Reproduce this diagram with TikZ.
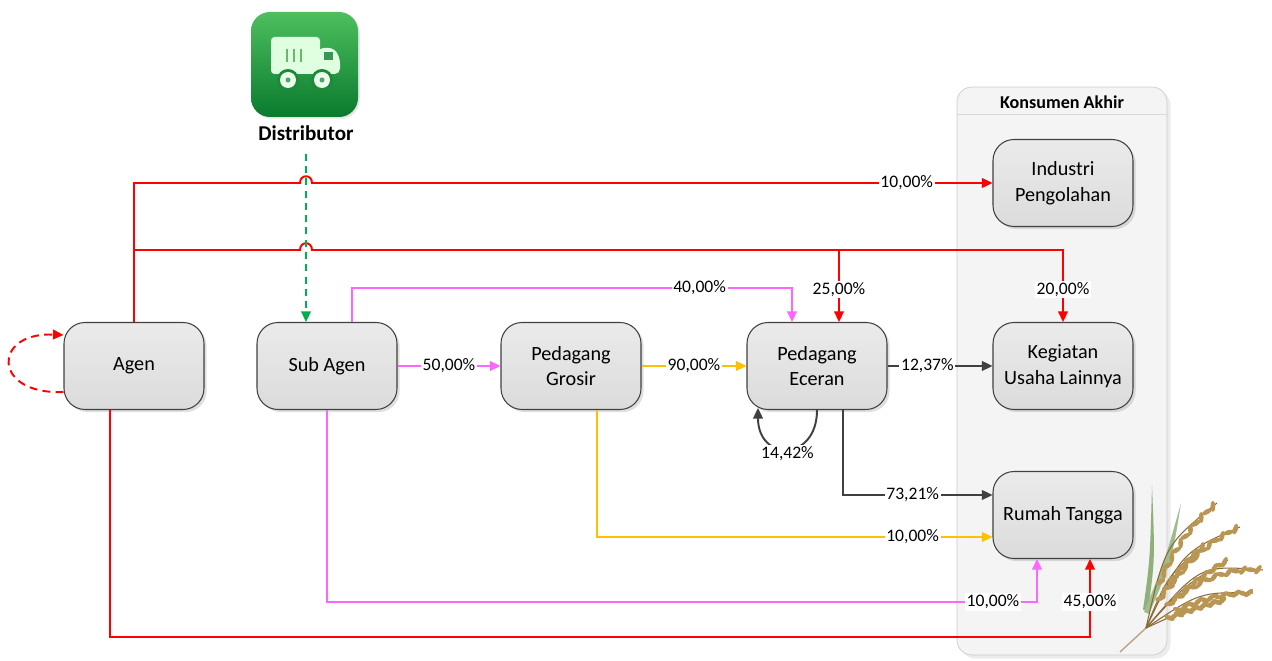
\documentclass[tikz,border=0pt]{standalone}
\usepackage{fontspec}
\setmainfont{Carlito}
\usetikzlibrary{arrows.meta, positioning, calc, shadows}
\definecolor{flowred}{HTML}{FF0000}
\definecolor{flowpink}{HTML}{FF66FF}
\definecolor{flowgold}{HTML}{FFC000}
\definecolor{flowdark}{HTML}{404040}
\definecolor{flowgreen}{HTML}{00B050}
\definecolor{icontop}{HTML}{4DBF5E}
\definecolor{iconbot}{HTML}{0A7A2E}
\definecolor{panel}{HTML}{F4F4F4}
\definecolor{leaf}{HTML}{8FB07A}
\definecolor{grain}{HTML}{C9A55C}
\definecolor{straw}{HTML}{8A6A35}

\begin{document}
\begin{tikzpicture}[x=.02cm, y=-.02cm,
    actor/.style={draw=black!75, line width=.6pt, rounded corners=.42cm,
      top color=black!8, bottom color=black!14,
      minimum width=2.8cm, minimum height=1.74cm, align=center,
      font=\fontsize{11.5}{14.7}\selectfont,
      drop shadow={opacity=.25, shadow xshift=1.5pt, shadow yshift=-1.5pt}},
    pct/.style={fill=white, text=black, inner sep=1pt, font=\fontsize{10}{12}\selectfont},
    flow/.style={line width=1.1pt, -{Triangle[length=6pt, width=5.5pt]}}]
  \useasboundingbox (0,0) rectangle (1272,661);

  \draw[black!20, fill=panel, rounded corners=.3cm,
    drop shadow={opacity=.15, shadow xshift=2pt, shadow yshift=-2pt}] (957,87) rectangle (1167,655);
  \draw[black!15] (957,114) -- (1167,114);
  \node[font=\bfseries\fontsize{10.3}{12}\selectfont] (header) at (1062,102) {Konsumen Akhir};

  \path[top color=icontop, bottom color=iconbot, rounded corners=.38cm,
    drop shadow={opacity=.2, shadow xshift=1pt, shadow yshift=-1pt}] (251,12) rectangle (358,117);
  \fill[white!88!green, rounded corners=2pt] (271,37) rectangle (320,74);
  \fill[white!88!green, rounded corners=3pt] (318,48) -- (334,48) -- (340,58) -- (340,74) -- (318,74) -- cycle;
  \fill[iconbot!80] (324,52) rectangle (333,60);
  \foreach \x in {287,294,301}
    \draw[black!45!green!60, line width=1.1pt] (\x,49) -- (\x,62);
  \foreach \x in {288,322}{
    \fill[iconbot!75!icontop] (\x,80) circle (11);
    \fill[white!92!green] (\x,80) circle (8);
    \fill[iconbot!70] (\x,80) circle (2.5);
  }
  \node[font=\bfseries\fontsize{12}{14}\selectfont] (dist) at (306,133) {Distributor};

  \fill[leaf] (1143,610) .. controls (1150,560) .. (1152,485) .. controls (1155,560) .. (1148,610) -- cycle;
  \fill[leaf!85!white] (1144,612) .. controls (1165,560) .. (1181,503) .. controls (1172,560) .. (1149,614) -- cycle;
  \draw[straw!60, line width=.8pt] (1120,652) -- (1146,628);
  \foreach \ex/\ey/\cx/\cy/\a in {1217/503/1165/545/60, 1240/527/1182/552/45, 1205/545/1168/575/50,
      1263/570/1200/565/25, 1228/560/1185/585/35, 1253/593/1200/592/12, 1225/600/1185/610/8}{
    \draw[straw, line width=.6pt] (1146,628) .. controls (\cx,\cy) .. (\ex,\ey);
    \foreach \t [count=\k] in {.3,.36,...,1}{
      \pgfmathsetmacro\tilt{\a+(-1)^\k*30}
      \fill[grain!75!straw] ($($(1146,628)!\t!(\cx,\cy)$)!\t!($(\cx,\cy)!\t!(\ex,\ey)$)$)
        circle[x radius=3.2pt, y radius=1.4pt, rotate=\tilt];
    }
  }

  \node[actor] (agen) at (134,366) {Agen};
  \node[actor] (sub) at (327,366) {Sub Agen};
  \node[actor] (grosir) at (571,366) {Pedagang\\Grosir};
  \node[actor] (eceran) at (817,366) {Pedagang\\Eceran};
  \node[actor] (industri) at (1063,183) {Industri\\Pengolahan};
  \node[actor] (usaha) at (1063,366) {Kegiatan\\Usaha Lainnya};
  \node[actor] (rumah) at (1063,515) {Rumah Tangga};

  \draw[flow, flowred] (agen.north) -- (134,183) -- (300,183)
    .. controls (300,174) and (312,174) .. (312,183)
    -- node[pct, pos=.874] {10,00\%} (industri.west);
  \coordinate (split) at (839,250);
  \draw[flow, flowred] (134,250) -- (300,250)
    .. controls (300,241) and (312,241) .. (312,250)
    -- (1063,250) -- node[pct, pos=.55] {20,00\%} (usaha.north);
  \draw[flow, flowred] (split) -- node[pct, pos=.55] {25,00\%} (split |- eceran.north);
  \draw[flow, flowred, dash pattern=on 4.5pt off 3pt]
    ($(agen.west)+(0,26)$) .. controls (-8,395) and (-8,332) .. ($(agen.west)+(0,-31)$);
  \draw[flow, flowred] ($(agen.south)+(-24,0)$) |- ($(rumah.south)+(27,78)$)
    -- node[pct, pos=.45] {45,00\%} ($(rumah.south)+(27,0)$);

  \draw[flow, flowgreen, dash pattern=on 4pt off 3pt] ($(dist.south)+(0,7)$) -- (dist.south |- sub.north);

  \draw[flow, flowpink] (sub.east) -- node[pct] {50,00\%} (grosir.west);
  \draw[flow, flowpink] ($(sub.north)+(25,0)$) |- node[pct, pos=.895] {40,00\%} (792,288)
    -- ($(eceran.north)+(-25,0)$);
  \draw[flow, flowpink] (sub.south) |- node[pct, pos=.969] {10,00\%} ($(rumah.south)+(-26,43)$)
    -- ($(rumah.south)+(-26,0)$);

  \draw[flow, flowgold] (grosir.east) -- node[pct] {90,00\%} (eceran.west);
  \draw[flow, flowgold] ($(grosir.south)+(26,0)$) |- node[pct, pos=.899] {10,00\%} ($(rumah.west)+(0,22)$);

  \draw[flow, flowdark] (eceran.east) -- node[pct, pos=.38] {12,37\%} (usaha.west);
  \draw[flow, flowdark] ($(eceran.south)+(26,0)$) |- node[pct, pos=.733] {73,21\%} ($(rumah.west)+(0,-20)$);
  \draw[flow, flowdark] (eceran.south) .. controls (817,462) and (758,462)
    .. node[pct, pos=.5, yshift=-3pt] {14,42\%} (758,408);
\end{tikzpicture}
\end{document}
